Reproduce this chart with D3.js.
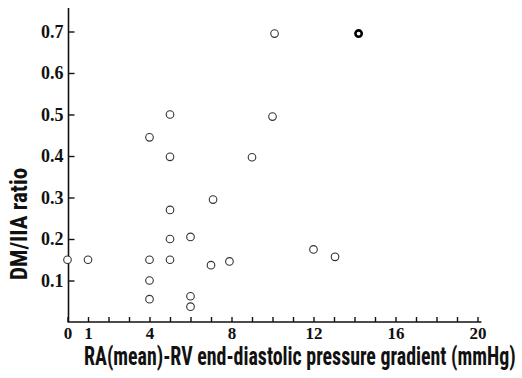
<!DOCTYPE html>
<html>
<head>
<meta charset="utf-8">
<script src="https://cdn.jsdelivr.net/npm/d3@7"></script>
<style>
  html, body { margin: 0; padding: 0; background: #fff; }
  svg { display: block; }
  .serif { font-family: "Liberation Serif", "Times New Roman", serif; font-weight: bold; }
  .narrow { font-family: "Roboto Condensed", "DejaVu Sans Condensed", sans-serif; font-weight: bold; }
</style>
</head>
<body>
<svg id="chart" width="522" height="378"></svg>
<script>
// Data
const gradient = [0, 1, 4, 4, 4, 4, 5, 5, 5, 5, 5, 6, 6, 6, 7, 7.1, 7.9, 9, 10, 10.1, 12, 13.05, 14.2];
const ratio    = [0.15, 0.15, 0.445, 0.15, 0.1, 0.055, 0.5, 0.398, 0.27, 0.2, 0.15, 0.205, 0.062, 0.037, 0.137, 0.295, 0.146, 0.397, 0.495, 0.695, 0.175, 0.157, 0.695];
const emphasized = [false, false, false, false, false, false, false, false, false, false, false, false, false, false, false, false, false, false, false, false, false, false, true];
const xTickValues = [0, 1, 2, 3, 4, 5, 6, 7, 8, 9, 10, 11, 12, 13, 14, 15, 16, 17, 18, 19, 20];
const xTickLabels = [0, 1, 4, 8, 12, 16, 20];
const yTickValues = [0.1, 0.2, 0.3, 0.4, 0.5, 0.6, 0.7];
const xTitle = "RA(mean)-RV end-diastolic pressure gradient (mmHg)";
const yTitle = "DM/IIA ratio";

const svg = d3.select("#chart");
const x = d3.scaleLinear().domain([0, 20]).range([67.5, 477.5]);
const y = d3.scaleLinear().domain([0, 0.7]).range([322, 31.5]);

// X axis
const xAxis = d3.axisBottom(x)
  .tickValues(xTickValues)
  .tickSizeInner(-5)
  .tickSizeOuter(0)
  .tickFormat(d => xTickLabels.includes(d) ? d : "");
const gx = svg.append("g").attr("transform", `translate(0,${y(0)})`).call(xAxis)
  .attr("font-family", null).attr("font-size", null);
gx.select(".domain").attr("d", `M${x(0)},0H${x(20) + 4}`).attr("stroke", "#111").attr("stroke-width", 1.6);
gx.selectAll(".tick line").attr("stroke", "#111").attr("stroke-width", 1.4);
gx.selectAll(".tick text")
  .attr("class", "serif")
  .attr("y", 5).attr("dy", "0.71em")
  .attr("fill", "#111")
  .style("font-size", "17px");

// Y axis
const yAxis = d3.axisLeft(y)
  .tickValues(yTickValues)
  .tickSizeInner(-6)
  .tickSizeOuter(0)
  .tickFormat(d3.format(".1f"));
const gy = svg.append("g").attr("transform", `translate(${x(0) + 1},0)`).call(yAxis)
  .attr("font-family", null).attr("font-size", null);
gy.select(".domain").attr("d", `M0,${y(0)}V8`).attr("stroke", "#111").attr("stroke-width", 1.6);
gy.selectAll(".tick line").attr("stroke", "#111").attr("stroke-width", 1.4);
gy.selectAll(".tick text")
  .attr("class", "serif")
  .attr("x", -5)
  .attr("fill", "#111")
  .style("font-size", "18px");

// Points
const pts = gradient.map((g, i) => ({ g, r: ratio[i], e: emphasized[i] }));
svg.append("g").selectAll("circle").data(pts).join("circle")
  .attr("cx", d => x(d.g))
  .attr("cy", d => y(d.r))
  .attr("r", d => d.e ? 3.2 : 3.8)
  .attr("fill", "#fff")
  .attr("stroke", d => d.e ? "#000" : "#333")
  .attr("stroke-width", d => d.e ? 2.6 : 1.1);

// Titles, horizontally condensed to the reference widths
function fitTitle(text, size, width, transformFn) {
  const t = svg.append("text")
    .attr("class", "narrow")
    .attr("fill", "#111")
    .style("font-size", size + "px")
    .text(text);
  const natural = t.node().getComputedTextLength();
  const s = Math.min(1, width / natural);
  t.attr("transform", transformFn(s));
  return t;
}
fitTitle(xTitle, 25, 432, s => `translate(84,365) scale(${s},1)`);
fitTitle(yTitle, 23, 117, s => `translate(27,280) rotate(-90) scale(${s},1)`);
</script>
</body>
</html>
